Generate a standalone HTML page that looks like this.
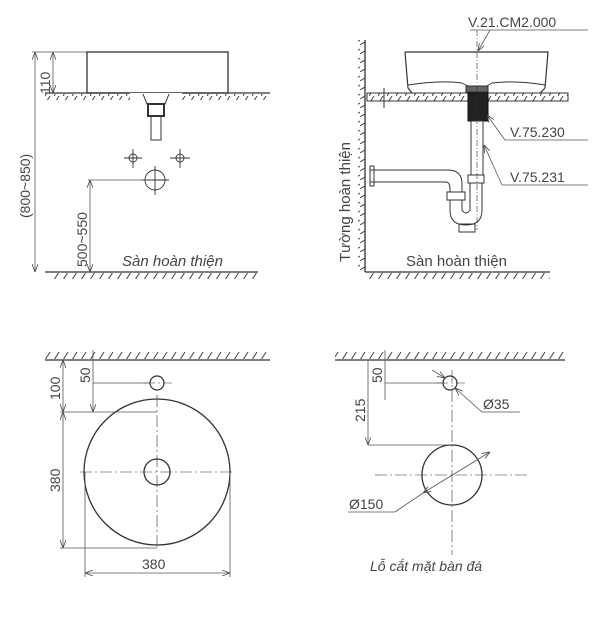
<!DOCTYPE html>
<html><head><meta charset="utf-8"><style>body{margin:0;background:#fff}svg{display:block}text{font-family:"Liberation Sans",sans-serif;fill:#444}</style></head><body>
<svg width="600" height="627" viewBox="0 0 600 627" xmlns="http://www.w3.org/2000/svg">
<defs>
<pattern id="h" width="9" height="8" patternUnits="userSpaceOnUse"><line x1="0" y1="8" x2="5" y2="0" stroke="#444" stroke-width="1"/></pattern>
<pattern id="hv" width="8" height="9" patternUnits="userSpaceOnUse"><line x1="0" y1="9" x2="8" y2="4" stroke="#444" stroke-width="1"/></pattern>
<marker id="a" markerWidth="8" markerHeight="6" refX="8" refY="3" orient="auto-start-reverse" markerUnits="userSpaceOnUse"><path d="M0,0L8,3L0,6" fill="none" stroke="#444" stroke-width="0.8"/></marker>
</defs>
<g stroke="#333" fill="none" stroke-width="1">
<rect x="87" y="52" width="141" height="41" stroke-width="1.3"/>
<line x1="45" y1="93" x2="270" y2="93" stroke-width="1.3"/>
<rect x="45" y="94" width="225" height="6" fill="url(#h)" stroke="none"/>
<rect x="130" y="93" width="52" height="8" fill="#fff" stroke="none"/>
<path d="M143,94 L147,104 L165,104 L169,94"/>
<rect x="148" y="104" width="16" height="12" stroke-width="2"/>
<rect x="151" y="116" width="10" height="24"/>
<g stroke-width="0.9"><line x1="124" y1="158" x2="142" y2="158"/><line x1="133" y1="149" x2="133" y2="168"/><circle cx="133" cy="158" r="4"/>
<line x1="170" y1="158" x2="190" y2="158"/><line x1="180" y1="149" x2="180" y2="168"/><circle cx="180" cy="158" r="4"/>
<circle cx="155" cy="180" r="10"/><line x1="141" y1="180" x2="169" y2="180"/><line x1="155" y1="166" x2="155" y2="195"/></g>
<line x1="45" y1="272" x2="258" y2="272" stroke-width="1.3"/>
<rect x="50" y="273" width="208" height="6" fill="url(#h)" stroke="none"/>
<g stroke="#555" stroke-width="0.8">
<line x1="32" y1="52" x2="87" y2="52"/><line x1="35" y1="52" x2="35" y2="272" marker-start="url(#a)" marker-end="url(#a)"/>
<line x1="53" y1="52" x2="53" y2="93" marker-start="url(#a)" marker-end="url(#a)"/>
<line x1="88" y1="180" x2="145" y2="180"/><line x1="90" y1="180" x2="90" y2="272" marker-start="url(#a)" marker-end="url(#a)"/>
</g>
<line x1="365" y1="40" x2="365" y2="272" stroke-width="1.3"/>
<rect x="358" y="40" width="7" height="232" fill="url(#hv)" stroke="none"/>
<line x1="365" y1="272" x2="550" y2="272" stroke-width="1.3"/>
<rect x="368" y="273" width="182" height="6" fill="url(#h)" stroke="none"/>
<rect x="367" y="93" width="201" height="8" fill="url(#h)"/>
<path d="M405,52 L548,52 L545,88 L540,93 M405,52 L408,88 L412,93" stroke-width="1.2"/>
<path d="M408,85 Q440,80 462,83 L470,87 M545,85 Q515,80 492,83 L485,87" stroke-width="0.9"/>
<rect x="466" y="86" width="22" height="6" fill="#666"/>
<rect x="468" y="93" width="20" height="28" fill="#222" stroke="#111"/>
<rect x="471" y="121" width="12" height="54"/>
<line x1="477" y1="30" x2="477" y2="230" stroke-dasharray="6,2,1,2" stroke-width="0.6"/>
<rect x="468" y="175" width="16" height="8"/>
<path d="M370,170 L448,170 Q462,170 462,184 L462,192 M370,182 L446,182 Q450,182 450,190 L450,192"/>
<rect x="370" y="166" width="4" height="20"/>
<rect x="447" y="192" width="18" height="8"/>
<path d="M450,200 L450,210 Q450,225 466,225 Q482,225 482,210 L482,183 M462,200 L462,210 Q466,216 470,210 L470,183"/>
<rect x="459" y="224" width="16" height="8"/>
<line x1="384" y1="88" x2="384" y2="108"/>
<g stroke="#555" stroke-width="0.8">
<line x1="470" y1="30" x2="588" y2="30"/><line x1="490" y1="30" x2="478" y2="51" marker-end="url(#a)"/>
<line x1="487" y1="115" x2="505" y2="140" marker-start="url(#a)"/><line x1="505" y1="140" x2="588" y2="140"/>
<line x1="484" y1="145" x2="502" y2="185" marker-start="url(#a)"/><line x1="502" y1="185" x2="588" y2="185"/>
</g>
<line x1="45" y1="360" x2="270" y2="360" stroke-width="1.3"/>
<rect x="45" y="352" width="225" height="7" fill="url(#h)" stroke="none"/>
<circle cx="157" cy="472" r="73" stroke-width="1.3"/>
<circle cx="157" cy="472" r="13" stroke-width="1.3"/>
<circle cx="157" cy="383" r="7" stroke-width="1.2"/>
<g stroke-dasharray="12,3,2,3" stroke-width="0.6"><line x1="80" y1="472" x2="235" y2="472"/><line x1="157" y1="395" x2="157" y2="550"/><line x1="143" y1="383" x2="172" y2="383"/></g>
<g stroke="#555" stroke-width="0.8">
<line x1="60" y1="412" x2="157" y2="412"/><line x1="63" y1="360" x2="63" y2="412" marker-start="url(#a)" marker-end="url(#a)"/>
<line x1="63" y1="412" x2="63" y2="548" marker-start="url(#a)" marker-end="url(#a)"/><line x1="60" y1="548" x2="157" y2="548"/>
<line x1="93" y1="350" x2="93" y2="412" marker-end="url(#a)"/><line x1="93" y1="383" x2="150" y2="383"/>
<line x1="85" y1="472" x2="85" y2="577"/><line x1="230" y1="472" x2="230" y2="577"/>
<line x1="85" y1="573" x2="230" y2="573" marker-start="url(#a)" marker-end="url(#a)"/>
</g>
<line x1="335" y1="360" x2="565" y2="360" stroke-width="1.3"/>
<rect x="335" y="352" width="230" height="7" fill="url(#h)" stroke="none"/>
<circle cx="452" cy="475" r="30" stroke-width="1.3"/>
<circle cx="450" cy="383" r="7" stroke-width="1.2"/>
<g stroke-dasharray="12,3,2,3" stroke-width="0.6"><line x1="375" y1="475" x2="530" y2="475"/><line x1="452" y1="370" x2="452" y2="555"/><line x1="436" y1="383" x2="465" y2="383"/></g>
<g stroke="#555" stroke-width="0.8">
<line x1="368" y1="360" x2="368" y2="445" marker-end="url(#a)"/><line x1="368" y1="445" x2="452" y2="445"/>
<line x1="385" y1="350" x2="385" y2="400" /><line x1="385" y1="383" x2="445" y2="383"/>
<line x1="432" y1="370" x2="445" y2="378" marker-end="url(#a)"/><line x1="455" y1="388" x2="482" y2="412" marker-start="url(#a)"/><line x1="482" y1="412" x2="520" y2="412"/>
<line x1="423" y1="493" x2="490" y2="452" marker-start="url(#a)" marker-end="url(#a)"/><line x1="423" y1="493" x2="395" y2="512"/><line x1="348" y1="512" x2="395" y2="512"/>
</g>
</g>
<g font-size="14">
<text x="468" y="27">V.21.CM2.000</text>
<text x="510" y="137">V.75.230</text>
<text x="510" y="182">V.75.231</text>
<text x="406" y="266" font-size="15">Sàn hoàn thiện</text>
<text x="122" y="266" font-style="italic" font-size="15">Sàn hoàn thiện</text>
<text transform="translate(350,262) rotate(-90)" font-size="15">Tường hoàn thiện</text>
<text transform="translate(30,218) rotate(-90)">(800~850)</text>
<text transform="translate(50,94) rotate(-90)">110</text>
<text transform="translate(87,267) rotate(-90)">500~550</text>
<text transform="translate(60,400) rotate(-90)">100</text>
<text transform="translate(90,383) rotate(-90)">50</text>
<text transform="translate(60,492) rotate(-90)">380</text>
<text x="142" y="569">380</text>
<text transform="translate(365,422) rotate(-90)">215</text>
<text transform="translate(382,383) rotate(-90)">50</text>
<text x="483" y="409">Ø35</text>
<text x="349" y="509">Ø150</text>
<text x="370" y="571" font-style="italic">Lỗ cắt mặt bàn đá</text>
</g>
</svg>
</body></html>
